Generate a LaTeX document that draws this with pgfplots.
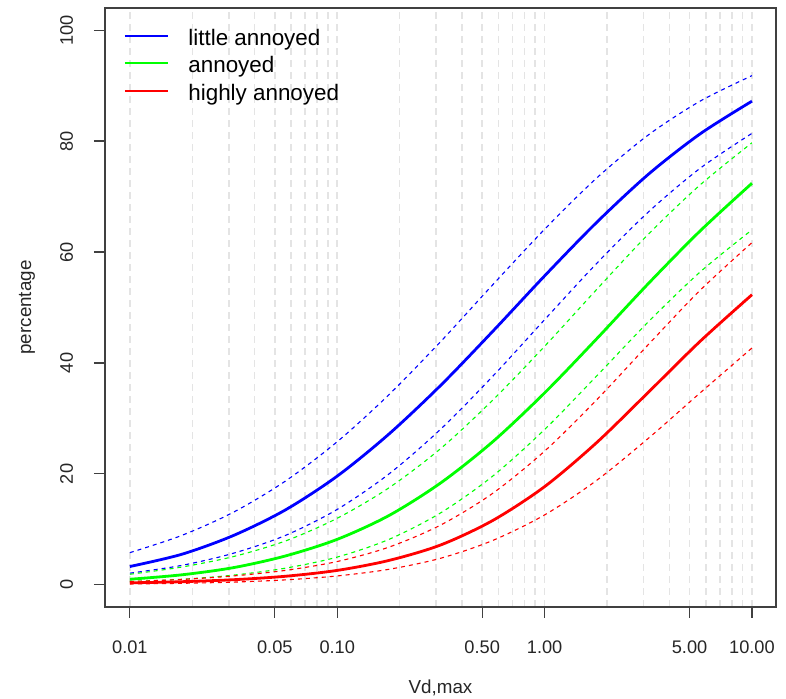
\documentclass[border=0pt]{standalone}
\usepackage{fontspec}
\setmainfont{Liberation Sans}
\usepackage{pgfplots}
\usepackage{pgfplotstable}
\pgfplotsset{compat=1.18}

\definecolor{gridgray}{RGB}{228,228,228}

% x = Vd,max ; columns: upper / estimate / lower for each annoyance level
\pgfplotstableread{
x        bu    b     bl    gu    g     gl    ru    r     rl
0.01     5.8   3.3   2.1   1.9   1.0   0.6   0.6   0.35  0.15
0.01778  8.9   5.5   3.5   3.2   1.8   1.0   0.96  0.56  0.27
0.03162  13.1  8.9   5.7   5.1   3.1   1.75  1.6   0.92  0.49
0.05623  18.7  13.5  8.9   7.9   5.2   3.0   2.6   1.54  0.89
0.1      25.8  19.6  13.6  12.0  8.2   5.0   4.2   2.6   1.6
0.1778   34.3  27.2  20.0  17.5  12.5  8.2   6.8   4.4   2.8
0.3162   43.9  36.0  28.1  24.6  18.4  13.0  10.8  7.2   4.8
0.5623   54.1  45.7  37.6  33.3  25.8  19.6  16.5  11.6  8.0
1        64.1  55.7  47.8  43.0  34.6  28.0  24.1  17.7  12.6
1.778    73.3  65.3  57.9  53.2  44.3  37.6  33.3  25.6  18.8
3.162    81.1  74.0  67.2  63.2  54.3  47.4  43.3  34.7  26.4
5.623    87.2  81.3  75.1  72.1  63.8  56.4  53.1  43.9  34.6
10       91.8  87.2  81.4  79.7  72.4  64.0  61.7  52.3  42.7
}\annoy

\begin{document}
\begin{tikzpicture}
\begin{axis}[
    scale only axis,
    width=335.5pt, height=299.5pt,
    xmode=log,
    xmin=0.007586, xmax=13.06,
    ymin=-4, ymax=104,
    xtick={0.01,0.05,0.1,0.5,1,5,10},
    xticklabels={0.01,0.05,0.10,0.50,1.00,5.00,10.00},
    minor xtick={0.01,0.02,0.03,0.04,0.05,0.06,0.07,0.08,0.09,0.1,0.2,0.3,0.4,0.5,0.6,0.7,0.8,0.9,1,2,3,4,5,6,7,8,9,10},
    ytick={0,20,40,60,80,100},
    minor tick length=0pt,
    major tick length=5.5pt,
    tick align=outside,
    tick pos=left,
    xminorgrids=true,
    minor grid style={gridgray, line width=0.75pt, dash pattern=on 3.5pt off 2.5pt},
    axis line style={black!75, line width=0.6pt},
    every tick/.style={black!75, line width=0.6pt},
    /pgf/number format/assume math mode=true,
    tick label style={font=\fontsize{9.1}{10}\selectfont, text=black!85},
    xticklabel shift=8pt,
    yticklabel style={rotate=90, anchor=south},
    yticklabel shift=7pt,
    xlabel={Vd,max},
    ylabel={percentage},
    label style={font=\fontsize{9.4}{10}\selectfont, text=black!85},
    x label style={at={(axis description cs:0.5,-0.1352)}, anchor=center},
    y label style={at={(axis description cs:-0.1162,0.5)}, anchor=center, rotate=0},
    clip=false,
]
\addplot[blue, line width=0.55pt, dash pattern=on 2pt off 2pt, smooth] table[y=bu] {\annoy};
\addplot[blue, line width=1.4pt, smooth] table[y=b] {\annoy};
\addplot[blue, line width=0.55pt, dash pattern=on 2pt off 2pt, smooth] table[y=bl] {\annoy};

\addplot[green, line width=0.55pt, dash pattern=on 2pt off 2pt, smooth] table[y=gu] {\annoy};
\addplot[green, line width=1.4pt, smooth] table[y=g] {\annoy};
\addplot[green, line width=0.55pt, dash pattern=on 2pt off 2pt, smooth] table[y=gl] {\annoy};

\addplot[red, line width=0.55pt, dash pattern=on 2pt off 2pt, smooth] table[y=ru] {\annoy};
\addplot[red, line width=1.4pt, smooth] table[y=r] {\annoy};
\addplot[red, line width=0.55pt, dash pattern=on 2pt off 2pt, smooth] table[y=rl] {\annoy};

% legend, drawn by hand in the top left corner
\draw[blue, line width=0.75pt] (axis description cs:0.0298,0.9533) -- (axis description cs:0.0939,0.9533);
\draw[green, line width=0.75pt] (axis description cs:0.0298,0.9082) -- (axis description cs:0.0939,0.9082);
\draw[red, line width=0.75pt] (axis description cs:0.0298,0.8614) -- (axis description cs:0.0939,0.8614);
\begin{scope}[every node/.style={anchor=base west, inner sep=0pt, yshift=-4.75pt, font=\fontsize{11.2}{12}\selectfont}]
\node at (axis description cs:0.1237,0.9533) {little annoyed};
\node at (axis description cs:0.1237,0.9082) {annoyed};
\node at (axis description cs:0.1237,0.8614) {highly annoyed};
\end{scope}
\end{axis}
\pgfresetboundingbox
\path[use as bounding box] ([shift={(-52.5pt,-46pt)}]current axis.south west) rectangle ([shift={(5pt,4pt)}]current axis.north east);
\end{tikzpicture}
\end{document}
